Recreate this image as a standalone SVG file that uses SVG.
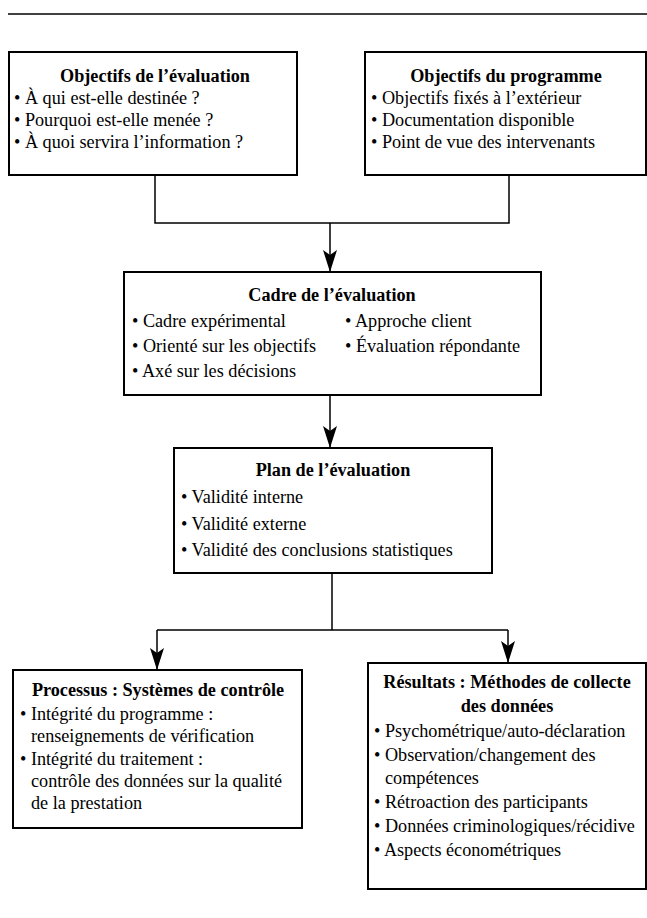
<svg xmlns="http://www.w3.org/2000/svg" width="647" height="918" viewBox="0 0 647 918">
<style>
  .box{fill:#fff;stroke:#000;stroke-width:2}
  .conn{fill:none;stroke:#000;stroke-width:1.5}
  text{font-family:"Liberation Serif","Times New Roman",serif;font-size:18.2px;fill:#000}
  .t{font-weight:bold;text-anchor:middle}
</style>
<defs>
  <marker id="ah" viewBox="0 0 22 14" refX="22" refY="7" markerWidth="22" markerHeight="14" markerUnits="userSpaceOnUse" orient="auto">
    <path d="M0,0 L22,7 L0,14 L5,7 Z" fill="#000"/>
  </marker>
</defs>
<rect width="647" height="918" fill="#fff"/>
<line x1="8" y1="14" x2="647" y2="14" stroke="#000" stroke-width="1.5"/>

<g id="connectors">
  <path class="conn" d="M155,175 V223 H509 V175"/>
  <path class="conn" d="M330,223 V272" marker-end="url(#ah)"/>
  <path class="conn" d="M330,395 V448" marker-end="url(#ah)"/>
  <path class="conn" d="M332,573 V630 M157,630 H508"/>
  <path class="conn" d="M157,630 V670" marker-end="url(#ah)"/>
  <path class="conn" d="M508,630 V663" marker-end="url(#ah)"/>
</g>

<g id="objectifs-evaluation">
  <rect class="box" x="9" y="52" width="288" height="123"/>
  <text class="t" x="155" y="82">Objectifs de l’évaluation</text>
  <text x="14" y="104">• À qui est-elle destinée ?</text>
  <text x="14" y="126">• Pourquoi est-elle menée ?</text>
  <text x="14" y="148">• À quoi servira l’information ?</text>
</g>

<g id="objectifs-programme">
  <rect class="box" x="365" y="52" width="281" height="123"/>
  <text class="t" x="506" y="82">Objectifs du programme</text>
  <text x="371" y="104">• Objectifs fixés à l’extérieur</text>
  <text x="371" y="126">• Documentation disponible</text>
  <text x="371" y="148">• Point de vue des intervenants</text>
</g>

<g id="cadre">
  <rect class="box" x="124" y="272" width="417" height="123"/>
  <text class="t" x="332" y="301">Cadre de l’évaluation</text>
  <text x="132" y="327">• Cadre expérimental</text>
  <text x="345" y="327">• Approche client</text>
  <text x="132" y="352">• Orienté sur les objectifs</text>
  <text x="345" y="352">• Évaluation répondante</text>
  <text x="132" y="377">• Axé sur les décisions</text>
</g>

<g id="plan">
  <rect class="box" x="174" y="448" width="318" height="125"/>
  <text class="t" x="333" y="476">Plan de l’évaluation</text>
  <text x="181" y="503">• Validité interne</text>
  <text x="181" y="530">• Validité externe</text>
  <text x="181" y="556">• Validité des conclusions statistiques</text>
</g>

<g id="processus">
  <rect class="box" x="13" y="670" width="289" height="158"/>
  <text class="t" x="158" y="696">Processus : Systèmes de contrôle</text>
  <text x="20" y="720">• Intégrité du programme :</text>
  <text x="31" y="742">renseignements de vérification</text>
  <text x="20" y="765">• Intégrité du traitement :</text>
  <text x="31" y="787">contrôle des données sur la qualité</text>
  <text x="31" y="809">de la prestation</text>
</g>

<g id="resultats">
  <rect class="box" x="368" y="663" width="278" height="226"/>
  <text class="t" x="507" y="688">Résultats : Méthodes de collecte</text>
  <text class="t" x="507" y="712">des données</text>
  <text x="374" y="737">• Psychométrique/auto-déclaration</text>
  <text x="374" y="761">• Observation/changement des</text>
  <text x="385" y="784">compétences</text>
  <text x="374" y="808">• Rétroaction des participants</text>
  <text x="374" y="832">• Données criminologiques/récidive</text>
  <text x="374" y="856">• Aspects économétriques</text>
</g>
</svg>
